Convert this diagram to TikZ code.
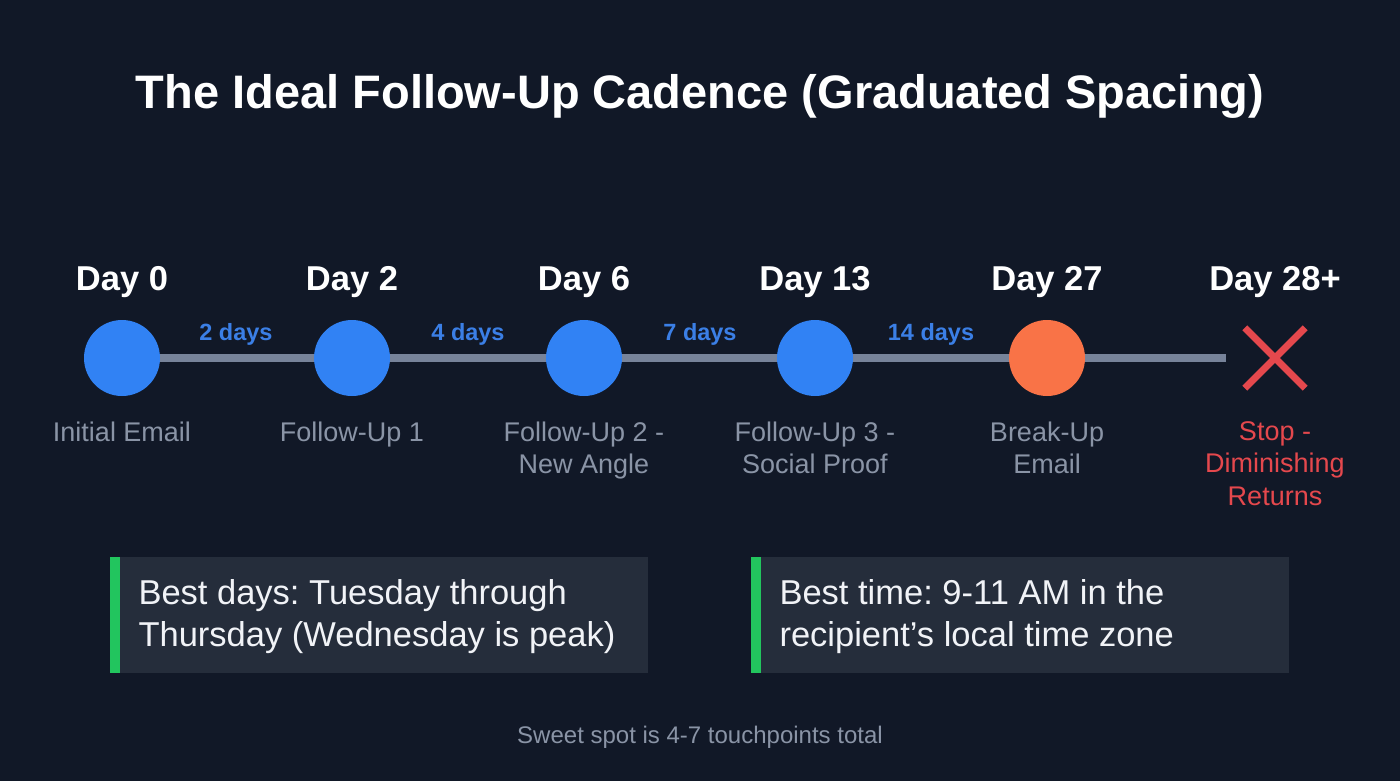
\documentclass[tikz,border=0pt]{standalone}
\usepackage{fontspec}
\setmainfont{Liberation Sans}
\frenchspacing
\definecolor{bgc}{HTML}{111827}
\definecolor{linec}{HTML}{77839A}
\definecolor{bluec}{HTML}{3182F4}
\definecolor{gapc}{HTML}{3B7FE6}
\definecolor{orangec}{HTML}{F97347}
\definecolor{redc}{HTML}{E5484D}
\definecolor{descc}{HTML}{8A94A6}
\definecolor{boxc}{HTML}{252D3B}
\definecolor{greenc}{HTML}{22C55E}
\definecolor{boxtxt}{HTML}{F1F3F7}
\tikzset{
  dot/.style={circle,minimum size=76pt,inner sep=0pt},
  daylab/.style={font=\fontsize{34.5}{40}\selectfont\bfseries,text=white,anchor=base},
  gaplab/.style={font=\fontsize{23.5}{28}\selectfont\bfseries,text=gapc,anchor=base},
  desc/.style={font=\fontsize{27}{32.5}\selectfont,text=descc,align=center,anchor=north},
  infobox/.style={fill=boxc,minimum width=538pt,minimum height=116pt,inner sep=0pt,anchor=north west},
  infotxt/.style={font=\fontsize{34.5}{42}\selectfont,text=boxtxt,align=left,anchor=west},
}
\begin{document}
\begin{tikzpicture}[x=1pt,y=-1pt]
\fill[bgc] (0,0) rectangle (1400,781);
\useasboundingbox (0,0) rectangle (1400,781);
\node[font=\fontsize{47}{56}\selectfont\bfseries,text=white] (title) at (700,96) {The Ideal Follow-Up Cadence (Graduated Spacing)};
% timeline
\coordinate (lend) at (1226,358);
\node[dot] (c0) at (122,358) {};
\node[dot] (c1) at (352,358) {};
\node[dot] (c2) at (584,358) {};
\node[dot] (c3) at (815,358) {};
\node[dot] (c4) at (1047,358) {};
\draw[linec,line width=8pt] (c0.center) -- (lend);
\fill[bluec] (c0) circle (38pt);
\fill[bluec] (c1) circle (38pt);
\fill[bluec] (c2) circle (38pt);
\fill[bluec] (c3) circle (38pt);
\fill[orangec] (c4) circle (38pt);
\node[minimum size=60pt,inner sep=0pt] (xs) at (1275,358) {};
\draw[redc,line width=7pt] (xs.north west) -- (xs.south east) (xs.north east) -- (xs.south west);
% day labels
\node[daylab] (d0) at (122,290) {Day 0};
\node[daylab] (d1) at (352,290) {Day 2};
\node[daylab] (d2) at (584,290) {Day 6};
\node[daylab] (d3) at (815,290) {Day 13};
\node[daylab] (d4) at (1047,290) {Day 27};
\node[daylab] (d5) at (1275,290) {Day 28+};
% gaps
\node[gaplab] (g0) at (236,340) {2 days};
\node[gaplab] (g1) at (468,340) {4 days};
\node[gaplab] (g2) at (700,340) {7 days};
\node[gaplab] (g3) at (931,340) {14 days};
% descriptions
\node[desc] (t0) at (122,418) {Initial Email};
\node[desc] (t1) at (352,418) {Follow-Up 1};
\node[desc] (t2) at (584,418) {Follow-Up 2 -\\New Angle};
\node[desc] (t3) at (815,418) {Follow-Up 3 -\\Social Proof};
\node[desc] (t4) at (1047,418) {Break-Up\\Email};
\node[desc,text=redc] (t5) at (1275,418) {Stop -\\Diminishing\\Returns};
% boxes
\node[infobox] (b1) at (110,557) {};
\fill[greenc] (b1.north west) rectangle ([xshift=10pt]b1.south west);
\node[infotxt] (b1t) at (135,617) {Best days: Tuesday through\\Thursday (Wednesday is peak)};
\node[infobox] (b2) at (751,557) {};
\fill[greenc] (b2.north west) rectangle ([xshift=10pt]b2.south west);
\node[infotxt] (b2t) at (776,617) {Best time: 9-11 AM in the\\recipient’s local time zone};
% footer
\node[font=\fontsize{24}{28}\selectfont,text=descc] (foot) at (700,737) {Sweet spot is 4-7 touchpoints total};
\end{tikzpicture}
\end{document}
